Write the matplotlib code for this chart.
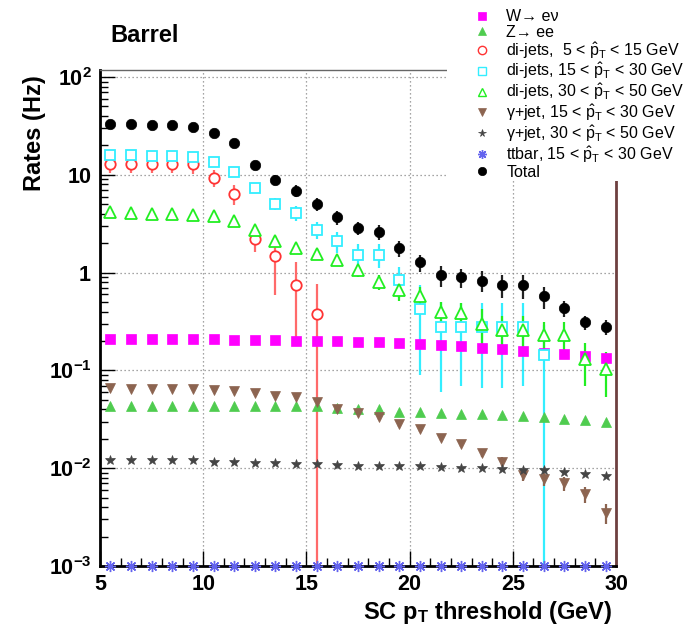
import numpy as np
import matplotlib
matplotlib.use("Agg")
import matplotlib.pyplot as plt
from matplotlib.patches import Rectangle
from matplotlib.lines import Line2D
from matplotlib.ticker import FixedLocator, NullFormatter, LogLocator

plt.rcParams['font.family'] = ['Liberation Sans', 'DejaVu Sans']
plt.rcParams['mathtext.fontset'] = 'custom'
plt.rcParams['mathtext.rm'] = 'Liberation Sans'
plt.rcParams['mathtext.it'] = 'Liberation Sans'
plt.rcParams['mathtext.bf'] = 'Liberation Sans:bold'

# ---------------- data ----------------
thresholds = [5.5, 6.5, 7.5, 8.5, 9.5, 10.5, 11.5, 12.5, 13.5, 14.5, 15.5, 16.5, 17.5,
              18.5, 19.5, 20.5, 21.5, 22.5, 23.5, 24.5, 25.5, 26.5, 27.5, 28.5, 29.5]

w_enu = [0.21, 0.21, 0.21, 0.21, 0.21, 0.21, 0.207, 0.205, 0.204, 0.202, 0.200, 0.198, 0.196,
         0.193, 0.190, 0.185, 0.181, 0.177, 0.170, 0.164, 0.158, 0.151, 0.146, 0.140, 0.134]
z_ee = [0.043, 0.043, 0.043, 0.043, 0.043, 0.043, 0.043, 0.043, 0.043, 0.043, 0.043, 0.041, 0.040,
        0.040, 0.038, 0.038, 0.037, 0.036, 0.0355, 0.035, 0.034, 0.033, 0.032, 0.031, 0.030]
dijet_5_15 = [13.0, 13.0, 13.0, 13.0, 12.8, 9.3, 6.4, 2.23, 1.49, 0.75, 0.38]
dijet_5_15_err = [2.6, 2.6, 2.6, 2.6, 2.6, 1.8, 1.5, 0.6, 0.9, 0.53, 0.39]
dijet_15_30 = [15.8, 15.8, 15.6, 15.5, 15.3, 13.5, 10.6, 7.35, 5.04, 4.07, 2.75, 2.09, 1.53,
               1.53, 0.85, 0.42, 0.28, 0.28, 0.276, 0.276, 0.28, 0.143]
dijet_15_30_err = [1.0, 1.0, 1.0, 1.0, 1.0, 1.0, 1.0, 0.8, 0.7, 0.7, 0.55, 0.5, 0.45,
                   0.42, 0.3, 0.33, 0.22, 0.21, 0.21, 0.21, 0.21, 0.15]
dijet_30_50 = [4.14, 4.05, 4.0, 3.95, 3.92, 3.83, 3.35, 2.75, 2.09, 1.79, 1.56, 1.36, 1.06,
               0.80, 0.67, 0.58, 0.40, 0.39, 0.30, 0.26, 0.26, 0.23, 0.23, 0.13, 0.104]
dijet_30_50_err = [0.2, 0.2, 0.2, 0.2, 0.2, 0.2, 0.2, 0.2, 0.2, 0.18, 0.17, 0.16, 0.15,
                   0.14, 0.16, 0.14, 0.10, 0.10, 0.12, 0.10, 0.10, 0.08, 0.08, 0.06, 0.05]
gjet_15_30 = [0.066, 0.065, 0.065, 0.065, 0.065, 0.063, 0.061, 0.059, 0.055, 0.053, 0.048, 0.040, 0.037,
              0.033, 0.028, 0.025, 0.0204, 0.0177, 0.0144, 0.0117, 0.0086, 0.0078, 0.0070, 0.0054, 0.0035]
gjet_15_30_err = [0.002, 0.002, 0.002, 0.002, 0.002, 0.002, 0.002, 0.002, 0.002, 0.002, 0.002, 0.002, 0.002,
                  0.0018, 0.0016, 0.0015, 0.0014, 0.0013, 0.0013, 0.0012, 0.0012, 0.0012, 0.0011, 0.001, 0.0008]
gjet_30_50 = [0.0122, 0.012, 0.012, 0.012, 0.012, 0.0117, 0.0115, 0.0113, 0.0113, 0.011, 0.011, 0.0108, 0.0106,
              0.0106, 0.0105, 0.0105, 0.0103, 0.0101, 0.0100, 0.0098, 0.0096, 0.0095, 0.0091, 0.0087, 0.0083]
ttbar = [0.001, 0.001, 0.001, 0.001, 0.001, 0.001, 0.001, 0.001, 0.001, 0.001, 0.001, 0.001, 0.001,
         0.001, 0.001, 0.001, 0.001, 0.001, 0.001, 0.001, 0.001, 0.001, 0.001, 0.001, 0.001]
total = [33, 33, 32.5, 32, 31, 27, 21, 12.7, 8.9, 6.9, 5.04, 3.7, 2.86,
         2.63, 1.77, 1.27, 0.94, 0.90, 0.83, 0.75, 0.74, 0.57, 0.43, 0.31, 0.28]
total_err = [1.5, 1.5, 1.5, 1.5, 1.5, 1.5, 1.5, 1.2, 1.0, 1.0, 0.8, 0.6, 0.45,
             0.45, 0.34, 0.25, 0.22, 0.2, 0.2, 0.2, 0.2, 0.15, 0.08, 0.05, 0.05]

labels = [
    'W\u2192 e\u03bd',
    'Z\u2192 ee',
    r'di-jets,  5 < $\hat{\mathrm{p}}_{\mathrm{T}}$ < 15 GeV',
    r'di-jets, 15 < $\hat{\mathrm{p}}_{\mathrm{T}}$ < 30 GeV',
    r'di-jets, 30 < $\hat{\mathrm{p}}_{\mathrm{T}}$ < 50 GeV',
    r'$\gamma$+jet, 15 < $\hat{\mathrm{p}}_{\mathrm{T}}$ < 30 GeV',
    r'$\gamma$+jet, 30 < $\hat{\mathrm{p}}_{\mathrm{T}}$ < 50 GeV',
    r'ttbar, 15 < $\hat{\mathrm{p}}_{\mathrm{T}}$ < 30 GeV',
    'Total',
]

xticks_major = [5, 10, 15, 20, 25, 30]
ytick_vals = [1e-3, 1e-2, 1e-1, 1, 10, 100]
ytick_labels = [r'$\mathbf{10^{-3}}$', r'$\mathbf{10^{-2}}$', r'$\mathbf{10^{-1}}$',
                r'$\mathbf{1}$', r'$\mathbf{10}$', r'$\mathbf{10^{2}}$']

# series styles: color, marker, markersize, filled, errors
styles = [
    ('#ff00ff', 's', 6.5, True),
    ('#4fcc4f', '^', 7, True),
    ('#ff3333', 'o', 7.5, False),
    ('#33eeff', 's', 7.5, False),
    ('#22ee22', '^', 8, False),
    ('#8c6450', 'v', 7, True),
    ('#454545', '*', 7, True),
    ('#6464ee', (8, 2, 0), 8, True),
    ('black', 'o', 7.5, True),
]

# ---------------- figure ----------------
W, H = 690, 638
fig = plt.figure(figsize=(W / 100, H / 100), dpi=100)
ax = fig.add_axes([100 / W, 1 - 566 / H, 516 / W, 496 / H])
ax.set_yscale('log')
ax.set_xlim(5, 30)
ax.set_ylim(1e-3, 1.18e2)

x = np.array(thresholds)

series = [(w_enu, None), (z_ee, None), (dijet_5_15, dijet_5_15_err),
          (dijet_15_30, dijet_15_30_err), (dijet_30_50, dijet_30_50_err),
          (gjet_15_30, gjet_15_30_err), (gjet_30_50, None), (ttbar, None),
          (total, total_err)]
ecolors = [None, None, '#ff6a6a', '#33eeff', '#22ee22', '#8c6450', None, None, '#222222']

for i, ((y, err), (col, mk, ms, filled)) in enumerate(zip(series, styles)):
    n = len(y)
    mfc = col if filled else 'white'
    mew = 0.5 if filled else 1.3
    if mk == (8, 2, 0):
        mew = 1.0
    clip = (i != 7)
    z = 5 if i == 8 else (4 if i == 7 else 3)
    h = ax.errorbar(x[:n], y, yerr=err, fmt='none' if err is None else 'none',
                    ecolor=ecolors[i] or col, elinewidth=1.6, capsize=0, zorder=z - 0.5)
    ax.plot(x[:n], y, ls='none', marker=mk, ms=ms, mfc=mfc, mec=col, mew=mew,
            clip_on=clip, zorder=z)

# ticks / grid
ax.xaxis.set_major_locator(FixedLocator(xticks_major))
ax.xaxis.set_minor_locator(FixedLocator(list(range(5, 31))))
ax.set_xticklabels([str(v) for v in xticks_major])
ax.yaxis.set_major_locator(FixedLocator(ytick_vals))
ax.set_yticklabels(ytick_labels)
ax.yaxis.set_minor_locator(LogLocator(base=10, subs=np.arange(2, 10)))
ax.yaxis.set_minor_formatter(NullFormatter())
ax.tick_params(axis='both', which='both', direction='in', top=False, right=False, width=1.0)
ax.tick_params(axis='x', which='major', length=11, labelsize=15.5, pad=6)
ax.tick_params(axis='x', which='minor', length=6)
ax.tick_params(axis='y', which='major', length=11, labelsize=15.5, pad=6)
ax.tick_params(axis='y', which='minor', length=6)
for lab in ax.get_xticklabels():
    lab.set_fontweight('bold')

for xv in [10, 15, 20, 25]:
    ax.axvline(xv, color='#888888', lw=0.9, ls=(0, (1, 2.2)), zorder=1)
for yv in [1e-2, 1e-1, 1, 10, 100]:
    ax.axhline(yv, color='#888888', lw=0.9, ls=(0, (1, 2.2)), zorder=1)

ax.spines['left'].set_linewidth(2)
ax.spines['bottom'].set_linewidth(2)
ax.spines['top'].set_linewidth(1)
ax.spines['top'].set_color('#666666')
ax.spines['right'].set_linewidth(2)
ax.spines['right'].set_color('#6e4040')

# legend (markers only, like ROOT)
handles = []
for col, mk, ms, filled in styles:
    handles.append(Line2D([], [], ls='none', marker=mk, ms=ms * 0.8,
                          mfc=col if filled else 'white', mec=col,
                          mew=1.0 if (not filled or mk == (8, 2, 0)) else 0.5))

fig.patches.append(Rectangle((447 / W, 1 - 181 / H), (W - 447) / W, 181 / H,
                             transform=fig.transFigure, facecolor='white',
                             edgecolor='none', zorder=5))
leg = fig.legend(handles, labels,
                 loc='upper left', bbox_to_anchor=(468 / W, 1 - 3 / H),
                 frameon=False, fontsize=11.5, labelspacing=0.02,
                 handletextpad=1.0, handlelength=1.0, borderaxespad=0)
leg.set_zorder(6)

fig.text(110 / W, 1 - 35 / H, 'Barrel', fontsize=17, fontweight='bold', va='center', ha='left')
fig.text(35 / W, 1 - 75 / H, 'Rates (Hz)', fontsize=17, fontweight='bold', rotation=90,
         ha='center', va='top')
fig.text(612 / W, 1 - 612 / H, r'SC p$_{\mathbf{T}}$ threshold (GeV)', fontsize=17,
         fontweight='bold', ha='right', va='center')

fig.savefig('out.png', dpi=100)
